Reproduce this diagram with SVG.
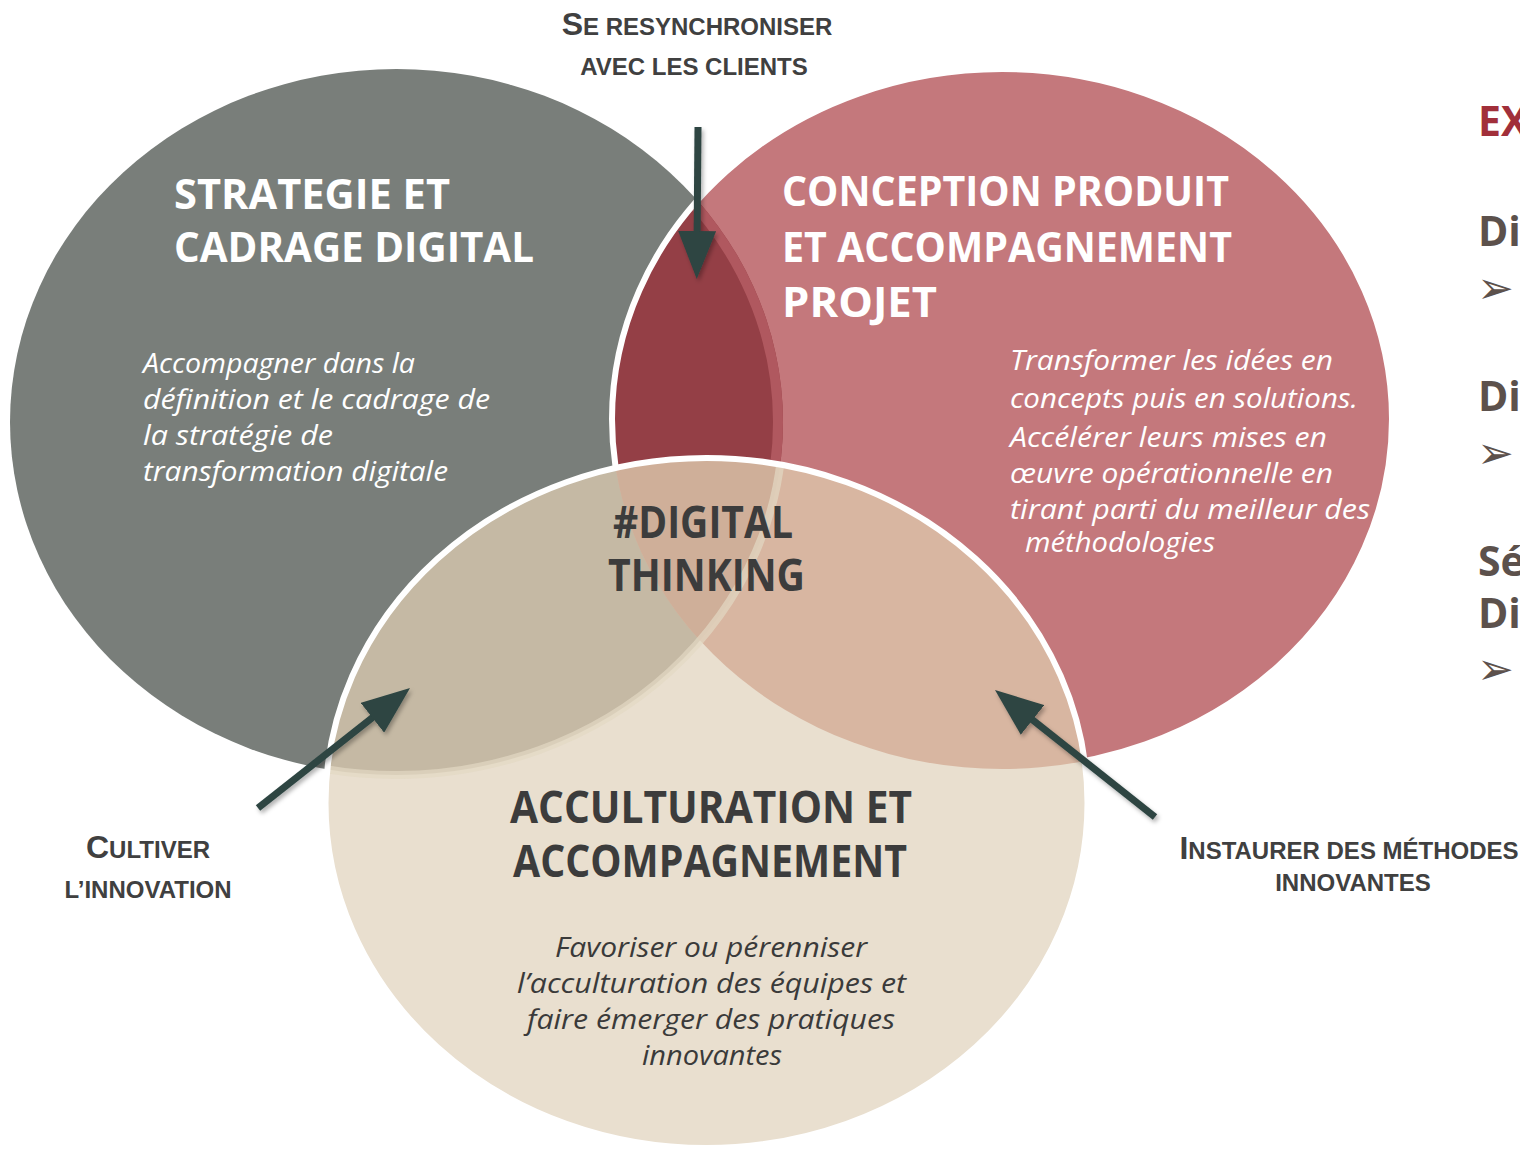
<svg xmlns="http://www.w3.org/2000/svg" width="1520" height="1150" viewBox="0 0 1520 1150">
<style>
.ttl{font-family:"Open Sans","Noto Sans",sans-serif;font-weight:700;fill:#ffffff}
.ttd{font-family:"Open Sans","Noto Sans",sans-serif;font-weight:700;fill:#3c3c3c}
.itw{font-family:"Open Sans","Noto Sans",sans-serif;font-style:italic;font-size:27px;fill:#ffffff}
.itd{font-family:"Open Sans","Noto Sans",sans-serif;font-style:italic;font-size:27px;fill:#3a3a3a}
.lbl{font-family:"Liberation Sans",Arial,sans-serif;font-weight:700;font-size:24px;fill:#404040}
.big{font-size:32px}
.arr{fill:none;stroke:#2d4542;stroke-width:7;marker-end:url(#head)}
.side{font-family:"Open Sans","Noto Sans",sans-serif;font-weight:700;font-size:41px}
.bul{font-family:"DejaVu Sans",sans-serif;font-size:44px;fill:#5c514c}
</style>
<defs>
<ellipse id="eG" cx="396.5" cy="422" rx="386.5" ry="353"/>
<ellipse id="eR" cx="1002" cy="419" rx="390" ry="350"/>
<ellipse id="eB" cx="706.5" cy="803" rx="381" ry="345"/>
<clipPath id="cR"><use href="#eR"/></clipPath>
<clipPath id="cG"><use href="#eG"/></clipPath>
<clipPath id="cB"><use href="#eB"/></clipPath>
<marker id="head" viewBox="0 0 48 38" markerUnits="userSpaceOnUse" markerWidth="48" markerHeight="38" refX="18" refY="19" orient="auto">
<path d="M0,0 L48,19 L0,38 Z" fill="#2d4542"/>
</marker>
<filter id="sh" filterUnits="userSpaceOnUse" x="0" y="0" width="1520" height="1150">
<feDropShadow dx="2" dy="3" stdDeviation="2" flood-color="#000" flood-opacity="0.3"/>
</filter>
</defs>

<g id="circle-strategie">
<use href="#eG" fill="#797e7a"/>
</g>
<g id="circle-conception">
<use href="#eR" fill="#c4787c"/>
<g clip-path="url(#cR)">
<use href="#eG" fill="#943f46"/>
<use href="#eG" fill="none" stroke="#b0585f" stroke-width="20" clip-path="url(#cG)"/>
</g>
<use href="#eR" fill="none" stroke="#ffffff" stroke-width="6"/>
</g>
<g id="circle-acculturation">
<use href="#eB" fill="#e9dfcf"/>
<g clip-path="url(#cB)">
<use href="#eG" fill="#c5b9a4"/>
<use href="#eR" fill="#d8b6a1"/>
<g clip-path="url(#cR)"><use href="#eG" fill="#cfaf99"/></g>
<use href="#eG" fill="none" stroke="#e3d8c3" stroke-width="8" opacity="0.7"/>
</g>
<use href="#eB" fill="none" stroke="#ffffff" stroke-width="6"/>
</g>

<g id="text-strategie">
<text class="ttl" font-size="41" x="174" y="209" textLength="276" lengthAdjust="spacingAndGlyphs">STRATEGIE ET</text>
<text class="ttl" font-size="41" x="174" y="262" textLength="360" lengthAdjust="spacingAndGlyphs">CADRAGE DIGITAL</text>
<text class="itw" x="143" y="373" textLength="272" lengthAdjust="spacingAndGlyphs">Accompagner dans la</text>
<text class="itw" x="143" y="409" textLength="347" lengthAdjust="spacingAndGlyphs">définition et le cadrage de</text>
<text class="itw" x="143" y="445" textLength="190" lengthAdjust="spacingAndGlyphs">la stratégie de</text>
<text class="itw" x="143" y="481" textLength="305" lengthAdjust="spacingAndGlyphs">transformation digitale</text>
</g>

<g id="text-conception">
<text class="ttl" font-size="42" x="782" y="206" textLength="447" lengthAdjust="spacingAndGlyphs">CONCEPTION PRODUIT</text>
<text class="ttl" font-size="42" x="782" y="262" textLength="450" lengthAdjust="spacingAndGlyphs">ET ACCOMPAGNEMENT</text>
<text class="ttl" font-size="42" x="782" y="317" textLength="155" lengthAdjust="spacingAndGlyphs">PROJET</text>
<text class="itw" x="1010" y="370" textLength="323" lengthAdjust="spacingAndGlyphs">Transformer les idées en</text>
<text class="itw" x="1010" y="408" textLength="348" lengthAdjust="spacingAndGlyphs">concepts puis en solutions.</text>
<text class="itw" x="1010" y="447" textLength="317" lengthAdjust="spacingAndGlyphs">Accélérer leurs mises en</text>
<text class="itw" x="1010" y="483" textLength="323" lengthAdjust="spacingAndGlyphs">œuvre opérationnelle en</text>
<text class="itw" x="1010" y="519" textLength="360" lengthAdjust="spacingAndGlyphs">tirant parti du meilleur des</text>
<text class="itw" x="1025" y="552" textLength="190" lengthAdjust="spacingAndGlyphs">méthodologies</text>
</g>

<g id="text-center">
<text class="ttd" font-size="44" x="613" y="538" textLength="180" lengthAdjust="spacingAndGlyphs">#DIGITAL</text>
<text class="ttd" font-size="44" x="608" y="591" textLength="197" lengthAdjust="spacingAndGlyphs">THINKING</text>
</g>

<g id="text-acculturation">
<text class="ttd" font-size="45" x="711" y="823" text-anchor="middle" textLength="402" lengthAdjust="spacingAndGlyphs">ACCULTURATION ET</text>
<text class="ttd" font-size="45" x="710" y="877" text-anchor="middle" textLength="394" lengthAdjust="spacingAndGlyphs">ACCOMPAGNEMENT</text>
<text class="itd" x="711" y="957" text-anchor="middle" textLength="312" lengthAdjust="spacingAndGlyphs">Favoriser ou pérenniser</text>
<text class="itd" x="711.5" y="993" text-anchor="middle" textLength="389" lengthAdjust="spacingAndGlyphs">l’acculturation des équipes et</text>
<text class="itd" x="711" y="1029" text-anchor="middle" textLength="368" lengthAdjust="spacingAndGlyphs">faire émerger des pratiques</text>
<text class="itd" x="712" y="1065" text-anchor="middle" textLength="140" lengthAdjust="spacingAndGlyphs">innovantes</text>
</g>

<g id="connectors" filter="url(#sh)">
<path class="arr" d="M698,127 L697,249"/>
<path class="arr" d="M258,808 L386.5,706.6"/>
<path class="arr" d="M1155,817 L1018.5,708.7"/>
</g>

<g id="label-resync">
<text class="lbl" x="697" y="35" text-anchor="middle"><tspan class="big">S</tspan>E RESYNCHRONISER</text>
<text class="lbl" x="694" y="75" text-anchor="middle">AVEC LES CLIENTS</text>
</g>
<g id="label-cultiver">
<text class="lbl" x="148" y="858" text-anchor="middle"><tspan class="big">C</tspan>ULTIVER</text>
<text class="lbl" x="148" y="898" text-anchor="middle">L’INNOVATION</text>
</g>
<g id="label-instaurer">
<text class="lbl" x="1349" y="859" text-anchor="middle"><tspan class="big">I</tspan>NSTAURER DES MÉTHODES</text>
<text class="lbl" x="1353" y="891" text-anchor="middle">INNOVANTES</text>
</g>

<g id="side-panel">
<text class="side" x="1478" y="136" fill="#a12f3a">EX</text>
<text class="side" x="1478" y="246" fill="#5c514c">Dia</text>
<text class="bul" x="1477" y="303">➢</text>
<text class="side" x="1478" y="411" fill="#5c514c">Dia</text>
<text class="bul" x="1477" y="468">➢</text>
<text class="side" x="1478" y="576" fill="#5c514c">Sé</text>
<text class="side" x="1478" y="628" fill="#5c514c">Dir</text>
<text class="bul" x="1477" y="684">➢</text>
</g>
</svg>
